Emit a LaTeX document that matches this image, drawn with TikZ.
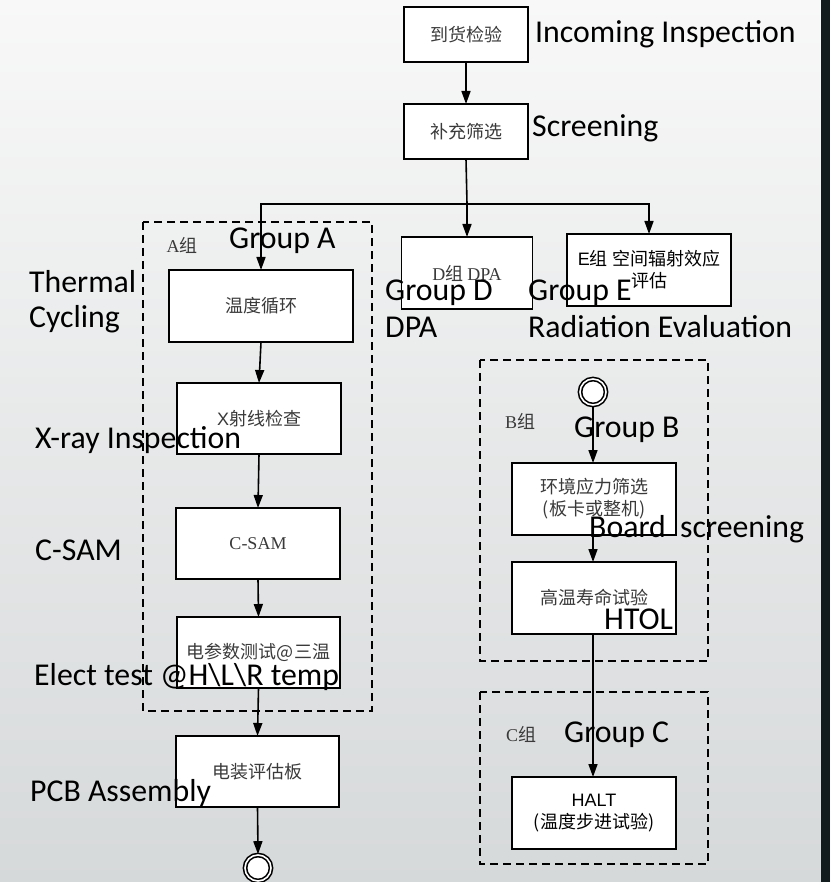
\documentclass[tikz,border=0pt]{standalone}
\usepackage{fontspec}
\setmainfont{Carlito}
\newfontfamily\cjk{Noto Sans CJK SC}
\newfontfamily\serifl{Liberation Serif}
\newfontfamily\sansl{Liberation Sans}
\usetikzlibrary{arrows.meta}
\definecolor{bgtop}{HTML}{F8F8F8}
\definecolor{bgbot}{HTML}{D6D9DA}
\definecolor{darkstrip}{HTML}{121B1D}
\definecolor{boxtext}{HTML}{3A3A3A}
\tikzset{
  stepbox/.style={draw=black, fill=white, line width=1.6pt, inner sep=0pt, outer sep=0pt,
    align=center, text=boxtext, font=\fontsize{18}{22}\selectfont\cjk},
  groupframe/.style={draw=black, line width=1.6pt, dash pattern=on 8pt off 5pt},
  arr/.style={line width=1.6pt, -{Triangle[length=13pt,width=9pt]}},
  plain/.style={line width=1.6pt},
  lbl/.style={anchor=base west, inner sep=0pt, font=\fontsize{31.8}{34}\selectfont, text=black},
  grp/.style={inner sep=0pt, text=boxtext, font=\fontsize{18}{21}\selectfont\serifl},
  termcirc/.style={draw=black, fill=white, line width=1.6pt, circle, minimum size=26pt, inner sep=0pt, double=white, double distance=1.6pt}
}
\begin{document}
\begin{tikzpicture}[x=1pt, y=-1pt]
\useasboundingbox (0,0) rectangle (830,882);
\shade[top color=bgtop, bottom color=bgbot] (0,0) rectangle (830,882);
\fill[darkstrip] (821,0) rectangle (830,882);

% group frames
\draw[groupframe] (143,222) rectangle (372,711);
\draw[groupframe] (480,360) rectangle (708,661);
\draw[groupframe] (480,692) rectangle (708,864);

% main boxes
\node[stepbox, minimum width=124pt, minimum height=55pt] (inc) at (466,34.5) {到货检验};
\node[stepbox, minimum width=124pt, minimum height=55pt] (scr) at (466,131.5) {补充筛选};
\node[stepbox, minimum width=184pt, minimum height=72pt] (tc) at (261,306) {温度循环};
\node[stepbox, minimum width=164pt, minimum height=71pt] (xray) at (259,418.5) {{\sansl X}射线检查};
\node[stepbox, minimum width=164pt, minimum height=71pt] (csam) at (258,543.5) {\serifl C-SAM};
\node[stepbox, minimum width=163pt, minimum height=71pt] (elec) at (258.5,652.5) {电参数测试@三温};
\node[stepbox, minimum width=163pt, minimum height=71pt] (pcb) at (257.5,771.5) {电装评估板};
\node[stepbox, minimum width=131pt, minimum height=72pt] (dpa) at (467,273) {{\serifl D}组 {\serifl DPA}};
\node[stepbox, minimum width=164pt, minimum height=72pt, text=black] (rad) at (649,270) {{\sansl E}组 空间辐射效应\\评估};
\node[stepbox, minimum width=164pt, minimum height=72pt] (ess) at (594,499) {环境应力筛选\\(板卡或整机)};
\node[stepbox, minimum width=164pt, minimum height=72pt] (htol) at (594,598) {高温寿命试验};
\node[stepbox, minimum width=164pt, minimum height=72pt, text=black] (halt) at (594,813) {{\sansl HALT}\\({\cjk 温度步进试验})};

% terminals
\node[termcirc] (startB) at (593,392) {};
\node[termcirc] (endA) at (258,868) {};

% split point
\coordinate (split) at (467,204);

% connectors
\draw[arr] (inc.south) -- (scr.south |- scr.north);
\draw[plain] (scr.south) -- (split);
\draw[arr] (split) -| (tc.north);
\draw[arr] (split) -- (dpa.north);
\draw[arr] (split) -| (rad.north);
\draw[arr] (tc.south) -- (xray.north);
\draw[arr] (xray.south) -- (csam.north);
\draw[arr] (csam.south) -- (elec.north);
\draw[arr] (elec.south) -- (pcb.north);
\draw[arr] (pcb.south) -- (endA.north);
\draw[arr] (startB.south) -- (ess.north -| startB.south);
\draw[arr] (ess.south -| startB.south) -- (htol.north -| startB.south);
\draw[arr] (htol.south -| startB.south) -- (halt.north -| startB.south);

% group small labels
\node[grp] (gA) at (182,245) {A{\cjk 组}};
\node[grp] (gB) at (520,421) {B{\cjk 组}};
\node[grp] (gC) at (521,734) {C{\cjk 组}};

% english labels
\node[lbl] (l1) at (535,43) {Incoming Inspection};
\node[lbl] (l2) at (532,137) {Screening};
\node[lbl] (l3) at (229,249) {Group A};
\node[lbl] (l4) at (29,292) {Thermal};
\node[lbl] (l5) at (29,327) {Cycling};
\node[lbl] (l6) at (385,300) {Group D};
\node[lbl] (l7) at (385,337) {DPA};
\node[lbl] (l8) at (528,300) {Group E};
\node[lbl] (l9) at (528,337) {Radiation Evaluation};
\node[lbl] (l10) at (35,448) {X-ray Inspection};
\node[lbl] (l11) at (35,560) {C-SAM};
\node[lbl] (l12) at (34,685) {Elect test @H\textbackslash L\textbackslash R temp};
\node[lbl] (l13) at (30,801) {PCB Assembly};
\node[lbl] (l14) at (574,437) {Group B};
\node[lbl] (l15) at (589,537) {Board\ \ screening};
\node[lbl] (l16) at (604,629) {HTOL};
\node[lbl] (l17) at (564,742) {Group C};
\end{tikzpicture}
\end{document}
